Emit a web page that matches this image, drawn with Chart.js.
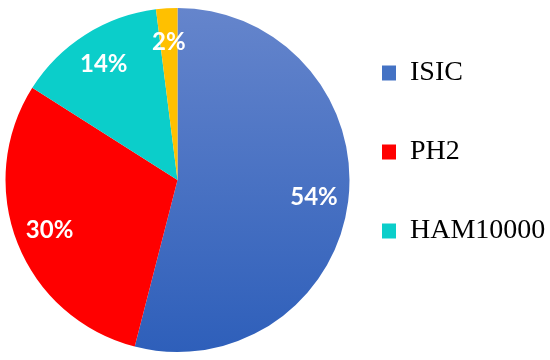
<!DOCTYPE html>
<html>
<head>
<meta charset="utf-8">
<script src="https://cdn.jsdelivr.net/npm/chart.js@4/dist/chart.umd.min.js"></script>
<style>
  html, body { margin: 0; padding: 0; background: #fff; }
  #wrap { width: 550px; height: 360px; }
</style>
</head>
<body>
<div id="wrap"><canvas id="pie"></canvas></div>
<script>
const categories = ["ISIC", "PH2", "HAM10000", "Other"];
const shares = [54, 30, 14, 2];
const sliceColors = ["#4472C4", "#FF0000", "#0BCECA", "#FFC000"];
const legendCount = 3;

// white percentage text placed inside each slice
const sliceLabels = {
  id: "sliceLabels",
  afterDatasetsDraw(chart) {
    const ctx = chart.ctx;
    const meta = chart.getDatasetMeta(0);
    ctx.save();
    ctx.fillStyle = "#fff";
    ctx.font = "bold 24px Lato";
    ctx.textAlign = "center";
    ctx.textBaseline = "middle";
    meta.data.forEach((arc, i) => {
      const mid = (arc.startAngle + arc.endAngle) / 2;
      const r = arc.outerRadius * 0.8;
      const x = arc.x + Math.cos(mid) * r;
      const y = arc.y + Math.sin(mid) * r;
      ctx.fillText(shares[i] + "%", x, y);
    });
    ctx.restore();
  }
};

function sliceFill(c) {
  const chart = c.chart;
  const area = chart.chartArea;
  if (c.dataIndex !== 0 || !area) return sliceColors[c.dataIndex];
  const g = chart.ctx.createLinearGradient(0, area.top, 0, area.bottom);
  g.addColorStop(0, "#6585CC");
  g.addColorStop(1, "#2E5FBA");
  return g;
}

new Chart(document.getElementById("pie"), {
  type: "pie",
  data: {
    labels: categories,
    datasets: [{
      data: shares,
      backgroundColor: sliceFill,
      borderWidth: 0,
      radius: 172,
      clip: false
    }]
  },
  options: {
    responsive: true,
    maintainAspectRatio: false,
    animation: false,
    layout: { padding: { left: 24, top: 8, bottom: 8, right: 0 } },
    plugins: {
      tooltip: { enabled: false },
      legend: {
        position: "right",
        align: "start",
        maxWidth: 219,
        labels: {
          boxWidth: 14,
          boxHeight: 15,
          padding: 51,
          color: "#44546A",
          font: { family: "Liberation Serif", size: 28 },
          filter: item => item.index < legendCount,
          generateLabels: chart => categories.map((name, i) => ({
            text: name,
            fillStyle: sliceColors[i],
            strokeStyle: sliceColors[i],
            lineWidth: 0,
            index: i
          }))
        }
      }
    }
  },
  plugins: [sliceLabels]
});
</script>
</body>
</html>
